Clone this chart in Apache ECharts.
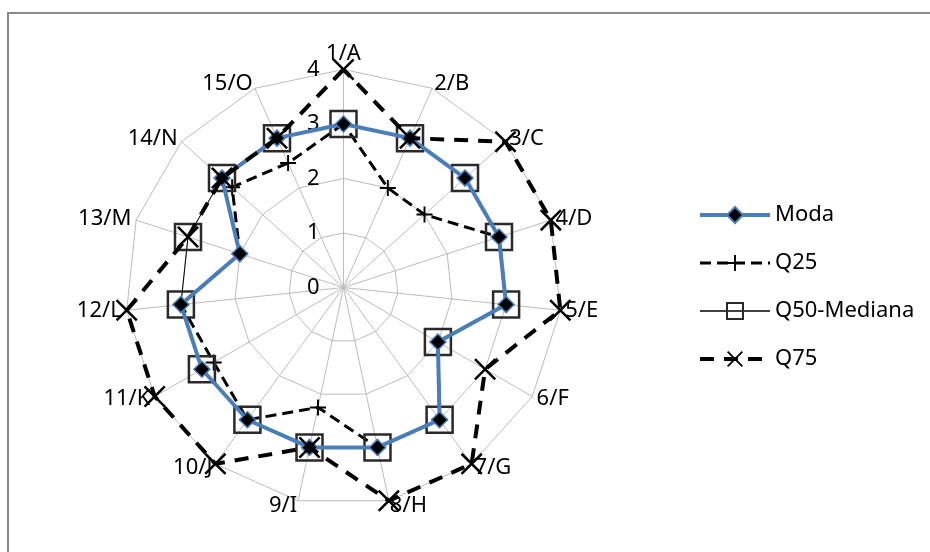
<!DOCTYPE html>
<html><head><meta charset="utf-8">
<script src="https://cdn.jsdelivr.net/npm/echarts@6/dist/echarts.min.js"></script>
<style>html,body{margin:0;padding:0;background:#fff}#c{width:930px;height:552px}</style>
</head><body><div id="c"></div>
<script>
const categories = ['1/A','2/B','3/C','4/D','5/E','6/F','7/G','8/H','9/I','10/J','11/K','12/L','13/M','14/N','15/O'];
const moda = [3,3,3,3,3,2,3,3,3,3,3,3,2,3,3];
const q25  = [3,2,2,3,3,2,3,3,2.25,3,2.75,3,2,2.75,2.5];
const q50  = [3,3,3,3,3,2,3,3,3,3,3,3,3,3,3];
const q75  = [4,3,4,4,4,3,4,4,3,4,4,4,3,3,3];
const seriesNames = ['Moda','Q25','Q50-Mediana','Q75'];
const axisMin = 0, axisMax = 4, axisSplits = 4;

// ECharts radar runs counter-clockwise; reorder so the chart reads clockwise
const order = [0].concat(categories.map((_, i) => i).slice(1).reverse());
const reorder = arr => order.map(i => arr[i]);

const FONT = 'Noto Sans';
const plusPath = 'path://M4.4,0H5.6V10H4.4Z M0,4.4H10V5.6H0Z';
const xPath = 'path://M0,0.8L0.8,0L10,9.2L9.2,10Z M9.2,0L10,0.8L0.8,10L0,9.2Z';

const styles = {
  'Moda': {symbol:'diamond', symbolSize:16, lineStyle:{color:'#4a7ebb', width:4},
           itemStyle:{color:'#000', borderColor:'#4a7ebb', borderWidth:1.5}, z:3},
  'Q25': {symbol:plusPath, symbolSize:16, lineStyle:{color:'#000', width:3, type:[11,6]},
          itemStyle:{color:'#000'}, z:2},
  'Q50-Mediana': {symbol:'rect', symbolSize:26, lineStyle:{color:'#000', width:1},
          itemStyle:{color:'rgba(0,0,0,0)', borderColor:'#2a2a2a', borderWidth:2.5}, z:2},
  'Q75': {symbol:xPath, symbolSize:22, lineStyle:{color:'#000', width:4, type:[14,10]},
          itemStyle:{color:'#000'}, z:4}
};
const values = {'Moda':moda, 'Q25':q25, 'Q50-Mediana':q50, 'Q75':q75};
const legendLineWidth = {'Moda':4, 'Q25':3, 'Q50-Mediana':1.5, 'Q75':4};

// legend-only line series (empty) so the legend shows line + marker icons
const legendSeries = seriesNames.map(n => ({
  type:'line', name:n, data:[], xAxisIndex:0, yAxisIndex:0,
  symbol: styles[n].symbol, lineStyle: styles[n].lineStyle,
  itemStyle: n === 'Q50-Mediana' ? {color:'rgba(0,0,0,0)', borderColor:'#2a2a2a', borderWidth:1.5} : styles[n].itemStyle
}));
const radarSeries = ['Q25','Q50-Mediana','Moda','Q75'].map(n => ({
  type:'radar', name:n, z:styles[n].z,
  data:[{value: reorder(values[n]), name:n}],
  symbol: styles[n].symbol, symbolSize: styles[n].symbolSize,
  lineStyle: styles[n].lineStyle, itemStyle: styles[n].itemStyle
}));

const chart = echarts.init(document.getElementById('c'));
chart.setOption({
  animation: false,
  backgroundColor: '#fff',
  graphic: [{type:'rect', shape:{x:8, y:13, width:1000, height:700}, style:{fill:'none', stroke:'#8a8a8a', lineWidth:2}, silent:true}],
  grid: {left: 0, top: 0, width: 1, height: 1, show: false},
  xAxis: {type:'category', show:false, data:[]},
  yAxis: {type:'value', show:false},
  legend: {
    orient: 'vertical', left: 693, top: 199,
    itemWidth: 70, itemHeight: 20, itemGap: 26,
    textStyle: {fontFamily: FONT, fontSize: 22, color: '#000'},
    data: seriesNames.map(n => ({name: n, lineStyle: {width: legendLineWidth[n], color: styles[n].lineStyle.color}}))
  },
  radar: {
    center: [343.5, 287.5], radius: 218, startAngle: 90,
    shape: 'polygon', splitNumber: axisSplits,
    nameGap: 5,
    axisName: {color: '#000', fontSize: 22, fontFamily: FONT},
    splitLine: {lineStyle: {color: '#bcbcbc', width: 1}},
    splitArea: {show: false},
    axisLine: {lineStyle: {color: '#bcbcbc', width: 1}},
    axisTick: {show: false},
    axisLabel: {show: false, margin: 24, fontSize: 22, fontFamily: FONT, color: '#000'},
    indicator: reorder(categories).map((c, i) => i === 0
      ? {name: c, min: axisMin, max: axisMax, axisLabel: {show: true}}
      : {name: c, min: axisMin, max: axisMax})
  },
  series: legendSeries.concat(radarSeries)
});
</script></body></html>
